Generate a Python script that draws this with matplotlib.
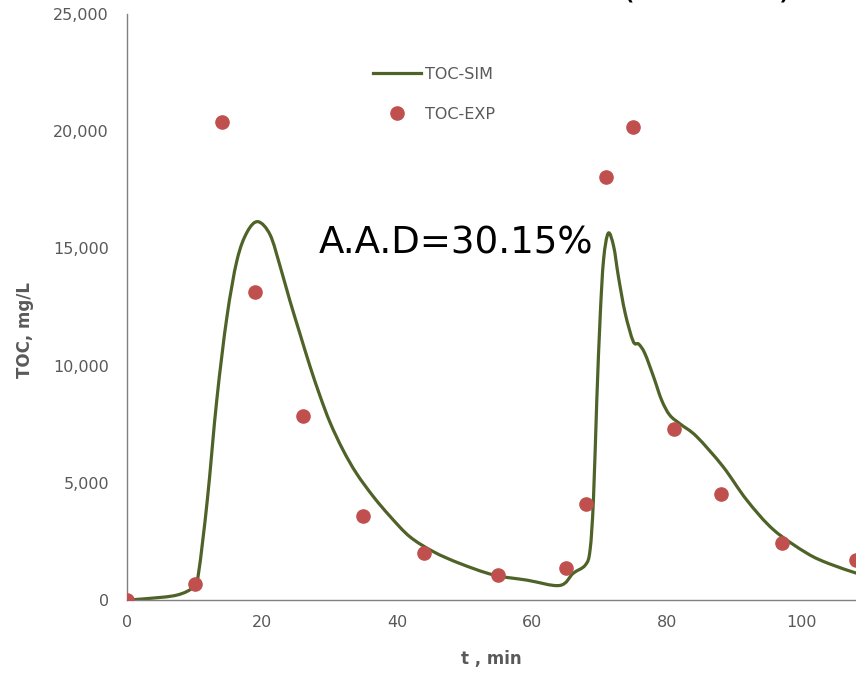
import matplotlib
matplotlib.use("Agg")
import matplotlib.pyplot as plt
import numpy as np
from matplotlib.ticker import FuncFormatter
from matplotlib.path import Path
from matplotlib.patches import PathPatch
from matplotlib.lines import Line2D

# ---- data ----
sim_t = [0, 3, 7.4, 9.9, 10.6, 11.9, 13.3, 14.8, 16.3, 17.8, 19.4, 21.2, 22.7, 24.1, 25.6,
         27.1, 28.6, 30.1, 32.0, 34.0, 36.5, 39.0, 41.9, 45.4, 49.3, 54.3, 59.2, 64.1,
         66.1, 67.9, 68.6, 69.1, 69.6, 70.1, 70.6, 71.3, 72.1, 72.8, 73.8, 75.0,
         75.8, 76.7, 78.0, 79.2, 80.4, 82.0, 84.4, 88.3, 91.8, 95.8, 100.7, 104.0, 108.0]
sim_toc = [0, 60, 210, 570, 1150, 4270, 8530, 12070, 14500, 15700, 16140, 15580, 14220, 12800, 11380,
           9980, 8700, 7560, 6400, 5400, 4410, 3560, 2700, 2060, 1560, 1070, 850, 620,
           1140, 1490, 2130, 4270, 8530, 12090, 14510, 15650, 15080, 13800, 12240, 11030,
           10920, 10530, 9530, 8530, 7890, 7500, 6970, 5690, 4270, 2990, 2000, 1550, 1150]

exp_t = [0, 10, 14, 19, 26, 35, 44, 55, 65, 68, 71, 75, 81, 88, 97, 108]
exp_toc = [0, 680, 20400, 13130, 7850, 3580, 1990, 1070, 1380, 4100, 18060, 20200,
           7280, 4510, 2420, 1710]

y_ticks = [0, 5000, 10000, 15000, 20000, 25000]
x_ticks = [0, 20, 40, 60, 80, 100]

W, H = 856, 681
fig = plt.figure(figsize=(W / 100, H / 100), dpi=100)
ax = fig.add_axes([127 / W, (H - 600) / H, 1 - 127 / W, (600 - 14) / H])

FONT = "DejaVu Sans"
gray = "#595959"
line_c = "#4F6228"
dot_c = "#C0504D"


def smooth_path(xs, ys):
    """Excel-style smoothed line drawn as cubic Bezier segments through the points."""
    P = np.column_stack([xs, ys]).astype(float)
    n = len(P)
    verts = [P[0]]
    codes = [Path.MOVETO]
    for i in range(n - 1):
        p0 = P[i - 1] if i > 0 else P[i]
        p1 = P[i]
        p2 = P[i + 1]
        p3 = P[i + 2] if i + 2 < n else P[i + 1]
        c1 = p1 + (p2 - p0) / 6.0
        c2 = p2 - (p3 - p1) / 6.0
        verts += [c1, c2, p2]
        codes += [Path.CURVE4] * 3
    return Path(verts, codes)


ax.add_patch(PathPatch(smooth_path(sim_t, sim_toc), facecolor="none", edgecolor=line_c,
                       lw=2.3, zorder=2, capstyle="round", joinstyle="round"))
ax.plot(exp_t, exp_toc, ls="none", marker="o", ms=9.5, color=dot_c,
        mec=dot_c, zorder=3)

ax.set_xlim(0, 108)
ax.set_ylim(0, 25000)
ax.set_xticks(x_ticks)
ax.set_yticks(y_ticks)
ax.yaxis.set_major_formatter(FuncFormatter(lambda v, p: f"{int(v):,}"))
ax.tick_params(length=0, labelsize=11.5, labelcolor=gray)
ax.tick_params(axis="y", pad=13)
ax.tick_params(axis="x", pad=11)
for lab in ax.get_xticklabels() + ax.get_yticklabels():
    lab.set_fontfamily(FONT)

for s in ["top", "right"]:
    ax.spines[s].set_visible(False)
for s in ["left", "bottom"]:
    ax.spines[s].set_color("#808080")
    ax.spines[s].set_linewidth(1.0)

ax.set_xlabel("t , min", fontsize=12, fontweight="bold", color=gray, family=FONT, labelpad=14)
ax.set_ylabel("TOC, mg/L", fontsize=12, fontweight="bold", color=gray, family=FONT)
ax.yaxis.set_label_coords((34 - 127) / (W - 127), (600 - 330) / (600 - 14))

handles = [Line2D([], [], color=line_c, lw=2.3),
           Line2D([], [], ls="none", marker="o", ms=9.5, color=dot_c, mec=dot_c)]
leg = ax.legend(handles, ["TOC-SIM", "TOC-EXP"], loc="upper left",
                bbox_to_anchor=(373 / W, 1 - 67 / H),
                bbox_transform=fig.transFigure, frameon=False,
                prop={"family": FONT, "size": 11.5}, handlelength=3.0,
                handletextpad=0.25, labelspacing=1.55, borderpad=0, borderaxespad=0)
for t in leg.get_texts():
    t.set_color(gray)

fig.text(456 / W, 1 - 243 / H, "A.A.D=30.15%", fontsize=26.7, family=FONT,
         ha="center", va="center", color="black")

# cut-off title fragments at top edge (as in the source image)
fig.text(628 / W, 1 - 5 / H, "(", fontsize=27, family=FONT, ha="center", va="bottom")
fig.text(785 / W, 1 - 5 / H, ")", fontsize=27, family=FONT, ha="center", va="bottom")

fig.savefig("out.png", dpi=100)
